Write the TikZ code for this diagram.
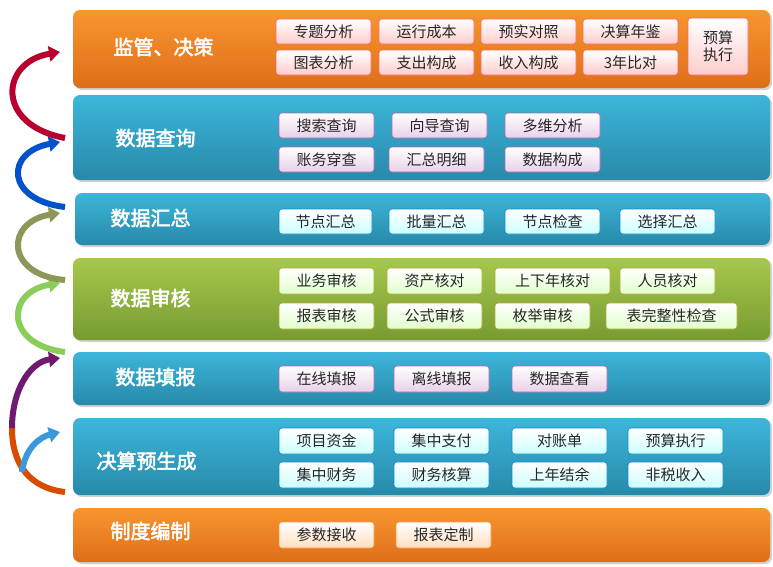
\documentclass[tikz,border=0pt]{standalone}
\usepackage{fontspec}
\setmainfont{Noto Sans CJK SC}
\newfontfamily\cjkb{Noto Sans CJK SC}[FakeBold=2.5]
\usetikzlibrary{shadows,arrows.meta}
\definecolor{orT}{HTML}{F8962F}\definecolor{orB}{HTML}{DE6E1A}
\definecolor{cyT}{HTML}{3DB6DA}\definecolor{cyB}{HTML}{2789AA}
\definecolor{grT}{HTML}{A6C84C}\definecolor{grB}{HTML}{779B31}
\tikzset{
 band/.style={rounded corners=7pt,drop shadow={opacity=0.35,shadow xshift=2pt,shadow yshift=-2pt}},
 bor/.style={band,top color=orT,bottom color=orB},
 bcy/.style={band,top color=cyT,bottom color=cyB},
 bgr/.style={band,top color=grT,bottom color=grB},
 ttl/.style={anchor=west,text=white,font=\cjkb\fontsize{20}{22}\selectfont},
 sb/.style={rounded corners=3pt,font=\fontsize{15}{17}\selectfont,text=black!85,inner sep=0pt,line width=0.6pt},
 pk/.style={sb,draw=red!60,top color=white,bottom color=red!20},
 lv/.style={sb,draw=violet!60,top color=white,bottom color=violet!18},
 cb/.style={sb,draw=cyan!70!blue,top color=white,bottom color=cyan!20},
 yg/.style={sb,draw=olive!70,top color=white,bottom color=yellow!40!green!20},
 pc/.style={sb,draw=orange!80,top color=white,bottom color=orange!25},
 rib/.style={line width=6pt,-{Triangle[length=11pt,width=15pt]}},
 ribn/.style={line width=6pt}
}
\newcommand\bx[7]{\node[#7,minimum width={(#4-#2)*1pt},minimum height={(#5-#3)*1pt}] (#1) at ({(#2+#4)/2},{(#3+#5)/2}) {#6};}
\begin{document}
\begin{tikzpicture}[x=1pt,y=-1pt]
\useasboundingbox (0,0) rectangle (773,566);
\fill[white] (0,0) rectangle (773,566);
\node[bor,minimum width=697pt,minimum height=78pt] (b1) at (421.5,49) {};
\node[bcy,minimum width=697pt,minimum height=85pt] (b2) at (421.5,137.5) {};
\node[bcy,minimum width=695pt,minimum height=52pt] (b3) at (422.5,219) {};
\node[bgr,minimum width=697pt,minimum height=82pt] (b4) at (421.5,299) {};
\node[bcy,minimum width=697pt,minimum height=53pt] (b5) at (421.5,378.5) {};
\node[bcy,minimum width=697pt,minimum height=77pt] (b6) at (421.5,456.5) {};
\node[bor,minimum width=697pt,minimum height=54pt] (b7) at (421.5,535) {};
\node[ttl] (t1) at (110,47) {监管、决策};
\node[ttl] (t2) at (112,138) {数据查询};
\node[ttl] (t3) at (107,218) {数据汇总};
\node[ttl] (t4) at (107,298) {数据审核};
\node[ttl] (t5) at (112,377) {数据填报};
\node[ttl] (t6) at (93,461) {决算预生成};
\node[ttl] (t7) at (107,531) {制度编制};
% band1
\bx{a1}{276}{19}{371}{44}{专题分析}{pk}\bx{a2}{379}{19}{474}{44}{运行成本}{pk}
\bx{a3}{481}{19}{576}{44}{预实对照}{pk}\bx{a4}{583}{19}{678}{44}{决算年鉴}{pk}
\bx{a5}{276}{50}{371}{75}{图表分析}{pk}\bx{a6}{379}{50}{474}{75}{支出构成}{pk}
\bx{a7}{481}{50}{576}{75}{收入构成}{pk}\bx{a8}{583}{50}{678}{75}{3年比对}{pk}
\node[pk,minimum width=60pt,minimum height=57pt,align=center] (a9) at (718,46.5) {预算\\执行};
% band2
\bx{c1}{279}{113}{374}{138}{搜索查询}{lv}\bx{c2}{392}{113}{487}{138}{向导查询}{lv}\bx{c3}{505}{113}{600}{138}{多维分析}{lv}
\bx{c4}{279}{147}{374}{172}{账务穿查}{lv}\bx{c5}{389}{147}{484}{172}{汇总明细}{lv}\bx{c6}{505}{147}{600}{172}{数据构成}{lv}
% band3
\bx{d1}{279}{209}{372}{234}{节点汇总}{cb}\bx{d2}{389}{209}{484}{234}{批量汇总}{cb}
\bx{d3}{505}{209}{600}{234}{节点检查}{cb}\bx{d4}{620}{209}{715}{234}{选择汇总}{cb}
% band4
\bx{e1}{279}{268}{374}{294}{业务审核}{yg}\bx{e2}{387}{268}{482}{294}{资产核对}{yg}
\bx{e3}{495}{268}{610}{294}{上下年核对}{yg}\bx{e4}{620}{268}{715}{294}{人员核对}{yg}
\bx{e5}{279}{303}{374}{329}{报表审核}{yg}\bx{e6}{387}{303}{482}{329}{公式审核}{yg}
\bx{e7}{495}{303}{590}{329}{枚举审核}{yg}\bx{e8}{606}{303}{737}{329}{表完整性检查}{yg}
% band5
\bx{f1}{279}{366}{374}{392}{在线填报}{lv}\bx{f2}{394}{366}{489}{392}{离线填报}{lv}\bx{f3}{512}{366}{607}{392}{数据查看}{lv}
% band6
\bx{g1}{279}{428}{374}{454}{项目资金}{cb}\bx{g2}{394}{428}{489}{454}{集中支付}{cb}
\bx{g3}{512}{428}{607}{454}{对账单}{cb}\bx{g4}{628}{428}{723}{454}{预算执行}{cb}
\bx{g5}{279}{462}{374}{488}{集中财务}{cb}\bx{g6}{394}{462}{489}{488}{财务核算}{cb}
\bx{g7}{512}{462}{607}{488}{上年结余}{cb}\bx{g8}{628}{462}{723}{488}{非税收入}{cb}
% band7
\bx{h1}{279}{522}{374}{548}{参数接收}{pc}\bx{h2}{396}{522}{491}{548}{报表定制}{pc}
% ribbons
\coordinate (p0) at (65,492);\coordinate (m0) at (12,428);\coordinate (q0) at (60,358);
\coordinate (p1) at (22,472);\coordinate (q1) at (60,432);
\coordinate (p2) at (65,352);\coordinate (q2) at (60,283);
\coordinate (p3) at (65,280);\coordinate (q3) at (60,213);
\coordinate (p4) at (65,207);\coordinate (q4) at (60,142);
\coordinate (p5) at (65,138);\coordinate (q5) at (60,52);
\draw[ribn,color=orange!70!red!85!black] (p0) .. controls (30,488) and (12,465) .. (m0);
\draw[rib,color=violet!75!black!90] (m0) .. controls (12,390) and (30,362) .. (q0);
\draw[rib,color=cyan!70!blue!80] (p1) .. controls (25,448) and (40,437) .. (q1);
\draw[rib,color=green!40!olive!65] (p2) .. controls (5,345) and (5,292) .. (q2);
\draw[rib,color=olive!60!teal!80] (p3) .. controls (5,275) and (5,222) .. (q3);
\draw[rib,color=blue!60!cyan!80!black] (p4) .. controls (5,200) and (5,152) .. (q4);
\draw[rib,color=purple!80!red!90!black] (p5) .. controls (-5,125) and (0,62) .. (q5);
\end{tikzpicture}
\end{document}
